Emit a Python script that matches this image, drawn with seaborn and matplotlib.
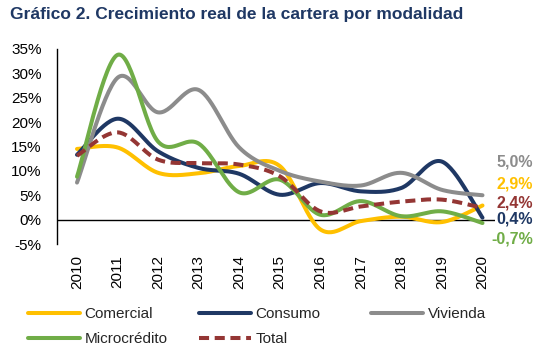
import numpy as np
import pandas as pd
import matplotlib
matplotlib.use("Agg")
import matplotlib.pyplot as plt
import seaborn as sns

years = [2010, 2011, 2012, 2013, 2014, 2015, 2016, 2017, 2018, 2019, 2020]
comercial = [14.5, 14.8, 9.6, 9.5, 11.0, 11.0, -2.0, -0.3, 0.6, -0.5, 2.9]
consumo = [13.3, 20.7, 14.0, 10.6, 9.4, 5.1, 7.5, 5.8, 6.5, 11.9, 0.4]
vivienda = [7.6, 29.1, 22.0, 26.6, 14.8, 10.0, 7.8, 7.0, 9.6, 6.1, 5.0]
microcredito = [8.8, 33.8, 16.0, 15.6, 5.6, 8.2, 1.0, 3.8, 0.7, 1.7, -0.7]
total = [13.1, 17.9, 12.3, 11.6, 11.3, 8.9, 1.7, 2.7, 3.7, 4.1, 2.4]

series_names = ["Comercial", "Consumo", "Vivienda", "Microcrédito", "Total"]
series_values = [comercial, consumo, vivienda, microcredito, total]
colors = ["#FFC000", "#1F3864", "#8C8C8C", "#70AD47", "#943634"]
yticks = [-5, 0, 5, 10, 15, 20, 25, 30, 35]
title = "Gráfico 2. Crecimiento real de la cartera por modalidad"
# y positions (data units) of the end-of-line labels
end_label_y = [7.4, 0.2, 11.9, -3.9, 3.5]


def smooth(xs, ys, n=30):
    """Excel-style smoothed line (Catmull-Rom Bezier) through the points."""
    x = np.asarray(xs, float)
    y = np.asarray(ys, float)
    px = np.concatenate([[x[0]], x, [x[-1]]])
    py = np.concatenate([[y[0]], y, [y[-1]]])
    outx, outy = [], []
    t = np.linspace(0, 1, n, endpoint=False)
    for i in range(len(x) - 1):
        p0x, p1x, p2x, p3x = px[i], px[i + 1], px[i + 2], px[i + 3]
        p0y, p1y, p2y, p3y = py[i], py[i + 1], py[i + 2], py[i + 3]
        c1x, c1y = p1x + (p2x - p0x) / 6, p1y + (p2y - p0y) / 6
        c2x, c2y = p2x - (p3x - p1x) / 6, p2y - (p3y - p1y) / 6
        bx = (1 - t) ** 3 * p1x + 3 * (1 - t) ** 2 * t * c1x + 3 * (1 - t) * t ** 2 * c2x + t ** 3 * p2x
        by = (1 - t) ** 3 * p1y + 3 * (1 - t) ** 2 * t * c1y + 3 * (1 - t) * t ** 2 * c2y + t ** 3 * p2y
        outx.extend(bx)
        outy.extend(by)
    outx.append(x[-1])
    outy.append(y[-1])
    return np.array(outx), np.array(outy)


sns.set_theme(style="white")
plt.rcParams["font.family"] = ["Liberation Sans", "DejaVu Sans"]

fig = plt.figure(figsize=(5.38, 3.48), dpi=100)
ax = fig.add_axes([57 / 538, 1 - 244 / 348, (495 - 57) / 538, (244 - 49) / 348])

handles = []
for name, vals, col in zip(series_names, series_values, colors):
    sx, sy = smooth(years, vals)
    df = pd.DataFrame({"x": sx, "y": sy})
    kw = dict(color=col, linewidth=2.9, solid_capstyle="round")
    if name == "Total":
        kw.update(linestyle=(0, (2.5, 1.4)), dash_capstyle="butt")
    sns.lineplot(data=df, x="x", y="y", ax=ax, legend=False, estimator=None, sort=False, **kw)
    handles.append(ax.lines[-1])

ax.axhline(0, color="black", linewidth=1.0, zorder=0.5)

ax.set_xlim(2010 - 20 / 40.55, 2020 + 12.5 / 40.55)
ax.set_ylim(-5, 35)
ax.set_xticks(years)
ax.set_xticklabels([str(y) for y in years], rotation=90, fontsize=11)
ax.set_yticks(yticks)
ax.set_yticklabels([f"{v}%" for v in yticks], fontsize=11)
ax.tick_params(axis="x", length=0, pad=8, colors="black")
ax.tick_params(axis="y", length=0, pad=11, colors="black")
ax.set_xlabel("")
ax.set_ylabel("")
for s in ["top", "right", "bottom"]:
    ax.spines[s].set_visible(False)
ax.spines["left"].set_color("black")
ax.spines["left"].set_linewidth(1.0)

# end labels
blend = matplotlib.transforms.blended_transform_factory(fig.transFigure, ax.transData)
for vals, col, ly in zip(series_values, colors, end_label_y):
    txt = f"{vals[-1]:.1f}%".replace(".", ",")
    ax.text(533 / 538, ly, txt, color=col, fontsize=11.5, fontweight="bold",
            ha="right", va="center", transform=blend)

# title
fig.text(10 / 538, 1 - 15 / 348, title, fontsize=12.5, fontweight="bold",
         color="#1F3864", ha="left", va="center")

# legend: three columns with equal spacing
cols = [[0, 3], [1, 4], [2]]
col_x = [28, 199, 371]
for idx, cx in zip(cols, col_x):
    fig.legend([handles[i] for i in idx], [series_names[i] for i in idx],
               loc="upper left", bbox_to_anchor=(cx / 538, 1 - 307 / 348),
               frameon=False, fontsize=11, handlelength=3.4, handletextpad=0.3,
               labelspacing=0.75, borderaxespad=0, borderpad=0)

fig.savefig("out.png", dpi=100)
